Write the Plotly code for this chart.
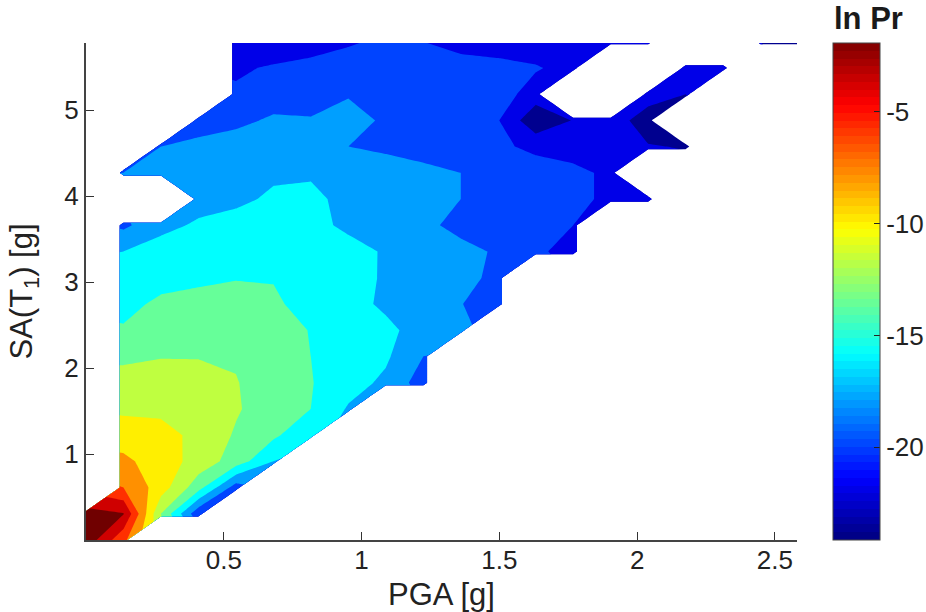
import plotly.graph_objects as go

N = None
# values of ln Pr, one row per SA level, one column per PGA level
pga = [0.136 * k for k in range(20)]
sa = [0.305 * j for j in range(20)]
pad = lambda r: r + [N] * (20 - len(r))
ln_pr = [pad(r) for r in [
    [-0.6, -5.5],
    [-1.2, -1.9, -12, -19.5],
    [N, -6, -9, -13.2, -19],
    [N, -7.6, -8.9, -10.8, -12.9, -16],
    [N, -8.9, -9.2, -10.6, -12.2, -13.6, -15.6],
    [N, -10.4, -10.5, -11.1, -11.8, -13, -14, -16.2],
    [N, -11.2, -11, -11.2, -11.9, -13, -13.9, -15.2, -16.4, -19],
    [N, -12.4, -12.1, -12.1, -12.2, -12.7, -14, -14.8, -15.7, -18],
    [N, -13.8, -13.2, -12.8, -12.6, -13, -14.1, -14.8, -15.6, -16.7, -17.6],
    [N, -14.6, -13.6, -13.3, -13.2, -13.7, -14.7, -15.4, -16.3, -17.1, -17.9, -19.5],
    [N, -15.1, -14.7, -14.4, -14.1, -14.1, -14.4, -15, -16.3, -17, -17.5, -18.4],
    [N, -16, -15.1, -14.9, -14.7, -14.6, -14.8, -15.3, -16.2, -17, -17.5, -18.2, -19.5, -21],
    [N, -18.4, -16.6, -15.7, -15.3, -15.1, -15.4, -16.4, -17, -17.6, -18.5, -19, -19.5, -20],
    [N, N, N, -16.8, -16.4, -15.7, -15.6, -16.5, -16.9, -17.3, -18, -18.6, -19, -19.5, -20.4, -21],
    [N, -18, -17.2, -16.9, -16.6, -16.3, -16.2, -16.6, -17, -17.5, -18, -18.5, -19, -19.5, -20.4],
    [N, N, -18, -17.5, -17, -16.8, -17, -18, -18.4, -18.8, -19.1, -19.6, -20.5, -20.9, -21.2, -21.9, -22.1],
    [N, N, N, -18.9, -18.5, -17.7, -17.9, -17.5, -18.2, -18.9, -19.3, -19.9, -23.5, -21.9, -21.2, -22.8],
    [N, N, N, N, -19.6, -19, -18.6, -18.1, -18.7, -19, -19.2, -19, -21, N, N, -21.3, -22],
    [N, N, N, N, -20.4, -19.7, -19.4, -19.2, -19.1, -19.1, -19.2, -19.4, -19.8, -20.8, N, N, -21.4, -21.6],
    [N, N, N, N, -21.6, -21.9, -20.9, -20.2, -19.7, -20, -20.7, -21, -21.3, -21.5, -21.6, -21.7, N, N, -22, -22.5],
]]

band_colors = ["#00008f", "#0000e8", "#0044ff", "#009fff", "#00ffff", "#66ff99",
               "#bfff40", "#ffef00", "#ff9000", "#ff3000", "#cf0000", "#700000"]
x_ticks = [0.5, 1, 1.5, 2, 2.5]
y_ticks = [1, 2, 3, 4, 5]
bar_ticks = [-5, -10, -15, -20]
bar_labels = ["-5", "-10", "-15", "-20"]

step = []
for i, c in enumerate(band_colors):
    step += [[i / 12, c], [(i + 1) / 12, c]]

def jet(t):
    f = lambda a: max(0.0, min(1.0, 1.5 - abs(4 * t - a)))
    return f"rgb({round(255 * f(3))},{round(255 * f(2))},{round(255 * f(1))})"

jet_steps = []
for i in range(64):
    c = jet((i + 0.5) / 64)
    jet_steps += [[i / 64, c], [(i + 1) / 64, c]]

font = "Liberation Sans, Arial, sans-serif"
ink = "#222222"

fig = go.Figure()
fig.add_trace(go.Contour(
    x=pga, y=sa, z=ln_pr, zmin=-24, zmax=0, zauto=False, colorscale=step, showscale=False,
    connectgaps=False, autocontour=False,
    contours=dict(start=-22, end=-2, size=2, coloring="fill", showlines=False),
    line=dict(width=0, smoothing=0), hoverinfo="skip",
))
fig.add_trace(go.Scatter(
    x=[1], y=[-50], mode="markers", hoverinfo="skip", showlegend=False,
    marker=dict(
        color=[-10], cmin=-24.15, cmax=-1.92, colorscale=jet_steps, showscale=True,
        colorbar=dict(
            x=(833 - 86) / 711, xanchor="left", y=0, yanchor="bottom",
            len=1, lenmode="fraction", thickness=47, thicknessmode="pixels",
            outlinecolor="#444444", outlinewidth=1, xpad=0, ypad=0,
            tickmode="array", tickvals=bar_ticks, ticktext=bar_labels, ticks="inside", ticklen=6,
            tickcolor="#222222", tickfont=dict(family=font, size=26, color=ink),
        ),
    ),
))
fig.update_layout(
    width=926, height=612, margin=dict(l=86, r=129, t=43, b=72, autoexpand=False),
    paper_bgcolor="white", plot_bgcolor="white", showlegend=False,
    font=dict(family=font, color=ink),
    annotations=[dict(text="<b>ln Pr</b>", xref="paper", yref="paper", x=(868 - 86) / 711, y=1 + 25 / 497,
                      xanchor="center", yanchor="middle",
                      showarrow=False, font=dict(family=font, size=31, color="#1a1a1a"))],
)
fig.update_xaxes(
    range=[0, 2.58], tickvals=x_ticks, ticktext=["0.5", "1", "1.5", "2", "2.5"], ticks="inside", ticklen=8,
    tickcolor="#333333", showgrid=False, zeroline=False, showline=True, linecolor="#444444", linewidth=2,
    tickfont=dict(size=26, family=font, color=ink), ticklabelstandoff=-4,
    title=dict(text="PGA [g]", standoff=10, font=dict(size=31, family=font, color=ink)),
)
fig.update_yaxes(
    range=[0, 5.78], tickvals=y_ticks, ticks="inside", ticklen=8,
    tickcolor="#333333", showgrid=False, zeroline=False, showline=True, linecolor="#444444", linewidth=2,
    tickfont=dict(size=26, family=font, color=ink),
    title=dict(text="SA(T<sub>1</sub>) [g]", standoff=22, font=dict(size=31, family=font, color=ink)),
)
fig.write_html("out.html", post_script="document.body.style.margin='0';", config=dict(displayModeBar=False))
